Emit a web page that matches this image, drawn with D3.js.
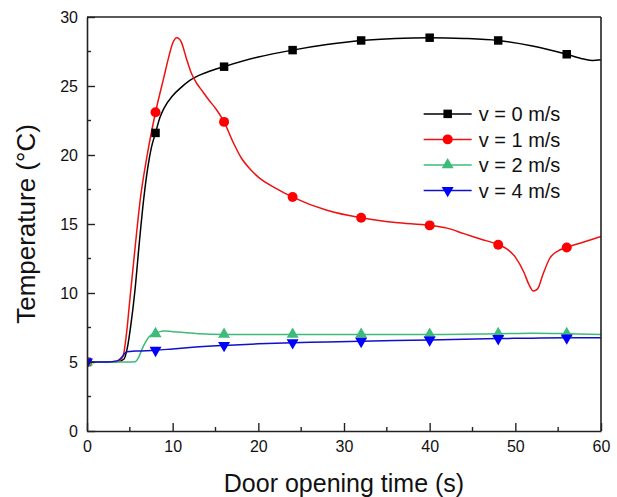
<!DOCTYPE html>
<html>
<head>
<meta charset="utf-8">
<script src="https://cdn.jsdelivr.net/npm/d3@7"></script>
<style>
  html, body { margin: 0; padding: 0; background: #fff; }
  svg { display: block; font-family: "Liberation Sans", Arial, sans-serif; }
</style>
</head>
<body>
<svg id="chart" width="617" height="497"></svg>
<script>
// Door opening time (s) and temperature (°C) for each air velocity
const timeV0 = [0, 2, 3.5, 4.3, 4.7, 5.1, 5.6, 6.1, 6.6, 7.1, 7.5, 8, 8.5, 9, 10, 11, 12, 13, 14, 16, 20, 24, 28, 32, 36, 40, 44, 48, 52, 56, 58, 59, 60];
const tempV0 = [5, 5, 5.02, 5.2, 6.0, 7.6, 10.2, 13.6, 16.7, 19.1, 20.5, 21.6, 22.7, 23.4, 24.3, 24.9, 25.4, 25.75, 26.0, 26.4, 27.1, 27.6, 28.0, 28.3, 28.45, 28.5, 28.45, 28.3, 27.9, 27.3, 26.95, 26.85, 26.9];

const timeV1 = [0, 2, 3.6, 4.2, 4.6, 5.0, 5.6, 6.2, 7.0, 8, 9, 9.5, 10, 10.5, 11, 11.6, 12.2, 12.8, 13.5, 14.2, 15.1, 16, 17, 18, 19, 20, 22, 24, 28, 32, 36, 40, 42, 44, 46, 48, 49, 50, 51, 51.6, 52.1, 52.6, 53.2, 54, 55, 56, 58, 60];
const tempV1 = [5, 5, 5.05, 5.4, 7.0, 9.5, 13.2, 16.7, 19.9, 23.1, 25.7, 27.0, 28.1, 28.5, 28.2, 27.0, 25.9, 25.2, 24.6, 24.0, 23.3, 22.4, 21.0, 19.8, 19.0, 18.4, 17.6, 16.95, 16.0, 15.45, 15.1, 14.9, 14.7, 14.3, 13.9, 13.5, 13.2, 12.6, 11.5, 10.6, 10.15, 10.3, 11.3, 12.5, 13.05, 13.3, 13.7, 14.1];

const timeV2 = [0, 3, 5.0, 5.6, 6.0, 6.4, 6.8, 7.2, 7.6, 8, 8.5, 9, 10, 11, 13, 16, 20, 24, 32, 40, 48, 52, 56, 60];
const tempV2 = [5, 5, 5.0, 5.02, 5.3, 5.9, 6.4, 6.8, 7.0, 7.05, 7.2, 7.25, 7.2, 7.15, 7.05, 7.0, 7.0, 7.0, 7.0, 7.0, 7.05, 7.08, 7.05, 7.0];

const timeV4 = [0, 2.5, 3.5, 4.0, 4.3, 4.6, 5.0, 6, 8, 10, 12, 16, 20, 24, 28, 32, 36, 40, 44, 48, 52, 56, 60];
const tempV4 = [5, 5, 5.08, 5.3, 5.55, 5.72, 5.76, 5.8, 5.85, 5.95, 6.05, 6.2, 6.32, 6.4, 6.45, 6.5, 6.55, 6.6, 6.65, 6.7, 6.73, 6.75, 6.75];

const seriesNames = ["v = 0 m/s", "v = 1 m/s", "v = 2 m/s", "v = 4 m/s"];
const seriesColors = ["#000000", "#ee1111", "#3dbb78", "#1010cc"];
const markerColors = ["#000000", "#ff0000", "#3dbb78", "#0000ff"];
const markerShapes = ["square", "circle", "triangle", "triangleDown"];
const markerTimes = [0, 8, 16, 24, 32, 40, 48, 56];

const xTicks = [0, 10, 20, 30, 40, 50, 60];
const yTicks = [0, 5, 10, 15, 20, 25, 30];
const xTitle = "Door opening time (s)";
const yTitle = "Temperature (°C)";

const series = [
  { t: timeV0, v: tempV0 },
  { t: timeV1, v: tempV1 },
  { t: timeV2, v: tempV2 },
  { t: timeV4, v: tempV4 }
].map((s, i) => ({
  name: seriesNames[i],
  color: seriesColors[i],
  mcolor: markerColors[i],
  shape: markerShapes[i],
  points: s.t.map((t, j) => ({ t, v: s.v[j] }))
}));

const svg = d3.select("#chart");
const margin = { top: 17, right: 16, bottom: 66, left: 87 };
const W = 617, H = 497;
const iw = W - margin.left - margin.right;
const ih = H - margin.top - margin.bottom;

const x = d3.scaleLinear().domain([0, 60]).range([0, iw]);
const y = d3.scaleLinear().domain([0, 30]).range([ih, 0]);

const g = svg.append("g").attr("transform", `translate(${margin.left},${margin.top})`);

g.append("defs").append("clipPath").attr("id", "plot-clip")
  .append("rect").attr("x", 0).attr("y", 0).attr("width", iw).attr("height", ih);

const symbolFor = {
  square: d3.symbol().type(d3.symbolSquare).size(72),
  circle: d3.symbol().type(d3.symbolCircle).size(78),
  triangle: d3.symbol().type(d3.symbolTriangle).size(62),
  triangleDown: d3.symbol().type(d3.symbolTriangle).size(62)
};
function markerPath(shape) { return symbolFor[shape](); }
function markerRotate(shape) { return shape === "triangleDown" ? " rotate(180)" : ""; }

// curves
const line = d3.line()
  .x(d => x(d.t))
  .y(d => y(d.v))
  .curve(d3.curveMonotoneX);

const plot = g.append("g").attr("clip-path", "url(#plot-clip)");

series.forEach(s => {
  plot.append("path")
    .datum(s.points)
    .attr("fill", "none")
    .attr("stroke", s.color)
    .attr("stroke-width", 1.5)
    .attr("d", line);
});

// markers every 8 s
series.forEach(s => {
  const pts = s.points.filter(p => markerTimes.includes(p.t));
  plot.selectAll(null)
    .data(pts)
    .enter().append("path")
    .attr("d", markerPath(s.shape))
    .attr("fill", s.mcolor)
    .attr("transform", d => `translate(${x(d.t)},${y(d.v)})${markerRotate(s.shape)}`);
});

// axes with inward ticks
const axisColor = "#222";
const xMinor = d3.range(5, 60, 10);
const yMinor = d3.range(2.5, 30, 5);

const xAxis = g.append("g").attr("transform", `translate(0,${ih})`)
  .call(d3.axisBottom(x).tickValues(xTicks).tickSizeInner(-8).tickSizeOuter(0).tickPadding(10).tickFormat(d3.format("d")));
xAxis.append("g").selectAll("line").data(xMinor).enter().append("line")
  .attr("x1", d => x(d)).attr("x2", d => x(d)).attr("y1", 0).attr("y2", -4);

const yAxis = g.append("g")
  .call(d3.axisLeft(y).tickValues(yTicks).tickSizeInner(-8).tickSizeOuter(0).tickPadding(9).tickFormat(d3.format("d")));
yAxis.append("g").selectAll("line").data(yMinor).enter().append("line")
  .attr("x1", 0).attr("x2", 4).attr("y1", d => y(d)).attr("y2", d => y(d));

[xAxis, yAxis].forEach(a => {
  a.select(".domain").attr("stroke", axisColor).attr("stroke-width", 1.6);
  a.selectAll("line").attr("stroke", axisColor).attr("stroke-width", 1.4);
  a.selectAll("text").attr("font-size", 16).attr("fill", "#111")
    .attr("font-family", '"Liberation Sans", Arial, sans-serif');
});

// frame on top and right
g.append("line").attr("x1", 0).attr("x2", iw).attr("y1", 0).attr("y2", 0)
  .attr("stroke", axisColor).attr("stroke-width", 1.6);
g.append("line").attr("x1", iw).attr("x2", iw).attr("y1", 0).attr("y2", ih)
  .attr("stroke", axisColor).attr("stroke-width", 1.6);

// axis titles
g.append("text")
  .attr("x", iw / 2).attr("y", ih + 61)
  .attr("text-anchor", "middle")
  .attr("font-size", 25).attr("fill", "#111")
  .text(xTitle);

g.append("text")
  .attr("transform", `translate(${-52},${ih / 2}) rotate(-90)`)
  .attr("text-anchor", "middle")
  .attr("font-size", 26).attr("fill", "#111")
  .text(yTitle);

// legend
const legend = g.append("g").attr("transform", `translate(${x(39.3)},${y(22.98)})`);
series.forEach((s, i) => {
  const row = legend.append("g").attr("transform", `translate(0,${i * 25.5})`);
  row.append("line").attr("x1", 0).attr("x2", 48).attr("y1", 0).attr("y2", 0)
    .attr("stroke", s.color).attr("stroke-width", 1.5);
  row.append("path").attr("d", markerPath(s.shape)).attr("fill", s.mcolor)
    .attr("transform", `translate(24,0)${markerRotate(s.shape)}`);
  row.append("text").attr("x", 55).attr("y", 0).attr("dy", "0.36em")
    .attr("font-size", 20).attr("fill", "#111")
    .text(s.name);
});
</script>
</body>
</html>
